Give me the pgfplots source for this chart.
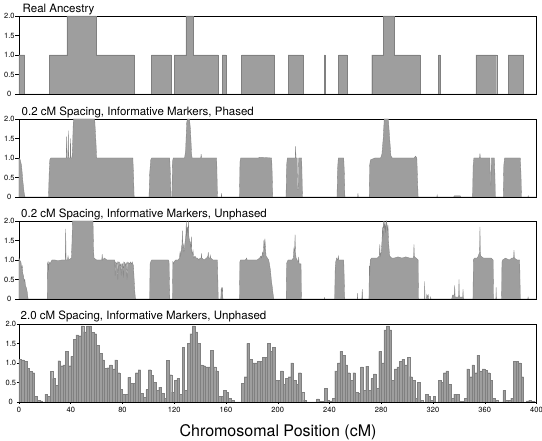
\documentclass[border=0pt]{standalone}
\usepackage{fontspec}
\setmainfont{TeX Gyre Heros}
\usepackage{pgfplots}
\pgfplotsset{compat=1.18}
\definecolor{fillgray}{RGB}{158,158,158}
\definecolor{edgegray}{RGB}{128,128,128}
\pgfplotsset{
  panel/.style={
    scale only axis, width=517.5pt, height=78pt,
    xmin=0, xmax=400, ymin=0, ymax=2,
    axis line style={black, line width=0.8pt},
    ytick={0,0.5,1,1.5,2}, yticklabels={0,0.5,1.0,1.5,2.0},
    ytick pos=left, tick align=outside, major tick length=3.5pt,
    tick style={black, line width=0.5pt},
    yticklabel style={font=\fontsize{7.5}{8}\selectfont, text width=12pt, align=center, inner xsep=0pt},
    xticklabel style={font=\fontsize{7.5}{8}\selectfont},
    /pgf/number format/assume math mode=true,
    anchor=north west, clip=true,
  },
  topx/.style={xtick=\empty},
}
\begin{document}
\begin{tikzpicture}
\useasboundingbox (0,0) rectangle (542pt,-441pt);
% Panel 1
\begin{axis}[panel, topx, at={(19pt,-16pt)}]
\addplot[const plot mark left, fill=fillgray, draw=edgegray, line width=0.3pt] coordinates {
(0,1) (4.3,0) (23.5,1) (37,2) (59.5,1) (89,0) (102.3,1) (117.6,0) (120,1) (129,2) (134.3,1) (154,0) (157,1) (160,0) (172,1) (197,0) (208,1) (219.4,0) (236,1) (236.7,0) (247,1) (253.5,0) (272.6,1) (281.6,2) (289.7,1) (309.8,0) (324.3,1) (325.6,0) (353.2,1) (369.2,0) (378,1) (390,0) (400,0)
} \closedcycle;
\end{axis}
% Panel 2
\begin{axis}[panel, topx, at={(19pt,-119pt)}]
\addplot[fill=fillgray, draw=edgegray, line width=0.3pt] coordinates {
(0,1.0) (1,0.95) (2,0.8) (3,0.4) (4,0.1) (4.6,0)
(22.8,0) (23.3,0.6) (23.8,0.95) (24.5,1.0) (30,1.0) (36.5,1.0) (36.8,1.55) (37.1,1.0) (37.8,1.0) (38.1,1.7) (38.4,1.0) (39.5,1.0) (39.8,1.5) (40.1,1.0) (41,1.0) (41.5,1.4) (42,2.0) (58.5,2.0) (59.5,1.4) (60,1.0) (88,1.0) (88.5,0.6) (89,0)
(100.5,0) (101,0.6) (101.8,0.95) (102.5,1.0) (116.5,1.0) (117,0.6) (117.5,0)
(118.2,0) (118.6,0.9) (119.2,1.0) (128,1.0) (128.8,1.2) (129.6,1.9) (130.2,2.0) (131.8,2.0) (132.6,1.7) (133.4,1.1) (133.8,1.0) (140.5,1.0) (140.8,1.1) (141.1,1.0) (152.8,1.0) (153.1,0.5) (153.4,0)
(156.3,0) (156.5,0.1) (156.7,0)
(170.4,0) (170.8,0.9) (171.3,1.0) (185,1.0) (186,1.02) (195.3,1.0) (195.7,0.6) (196.1,0)
(206.4,0) (206.8,0.8) (207.4,1.0) (213.5,1.0) (213.8,1.3) (214.1,1.0) (215,1.0) (215.3,0.2) (215.9,0.2) (216.2,1.0) (218.5,1.0) (218.8,0.5) (219.1,0)
(245.8,0) (246.2,0.7) (246.8,1.0) (251,1.0) (251.5,0.6) (251.9,0)
(261.8,0) (262,0.1) (262.2,0)
(270.7,0) (271,0.8) (271.6,0.95) (275,1.0) (279.5,1.0) (280.5,1.1) (281.5,1.5) (282.3,2.0) (285.5,2.0) (286.5,1.5) (287.5,1.05) (288.5,1.0) (305.5,1.0) (306.5,1.05) (307.5,1.0) (308,0.5) (308.5,0)
(323,0) (323.2,0.05) (323.4,0)
(336,0) (336.5,0.03) (341,0.03) (341.5,0)
(350.6,0) (351,0.8) (351.6,1.0) (356,1.0) (356.3,1.12) (356.6,1.0) (364,1.0) (364.3,0.3) (364.8,0.3) (365.1,1.0) (367.5,1.0) (367.9,0.5) (368.2,0)
(374.3,0) (374.7,0.8) (375.3,1.0) (387.5,1.0) (388,0.6) (388.4,0)
(393.4,0) (393.6,0.03) (393.8,0) (400,0)
} \closedcycle;
\end{axis}
% Panel 3
\begin{axis}[panel, topx, at={(19pt,-221pt)}]
\addplot[fill=fillgray, draw=edgegray, line width=0.3pt] coordinates {
(0,1.05) (0.5,1.0) (1.5,0.95) (2,0.8) (2.5,0.85) (3,0.65) (3.5,0.6) (4,0.45) (4.5,0.5) (5,0.35) (5.5,0.3) (6,0.25) (6.5,0.15) (7,0)
(21.8,0) (22,0.9) (22.4,0.95) (22.8,0.7) (23.2,0.95) (24,0.9) (24.6,0.95) (25.5,1.0) (27,1.0) (28,1.0) (30,0.98) (33,1.0) (35.8,1.0) (36.1,1.8) (36.4,1.0) (37.5,1.0) (37.9,1.1) (38.3,1.0) (40.5,1.05) (41,1.5) (41.3,2.0) (57.2,2.0) (57.6,1.3) (58,1.05) (60,1.0) (62,1.0) (64,1.0) (64.3,1.15) (64.6,1.0) (66,1.05) (68,1.0) (70,1.0) (72,1.0) (74,1.0) (74.3,0.6) (74.6,0.95) (75.5,0.9) (76,0.95) (76.4,0.5) (76.8,0.95) (77.5,0.95) (78,0.85) (78.5,0.9) (79,0.6) (79.4,0.9) (80.2,0.9) (80.6,0.55) (81,0.95) (82,0.92) (82.5,0.85) (83,0.92) (83.5,0.5) (84,0.95) (85.5,0.9) (86,0.95) (87,0.9) (87.5,0.95) (88.5,0.85) (89,0.5) (89.5,0.2) (90,0)
(101,0) (101.3,0.9) (101.8,0.95) (102.5,1.0) (110,1.0) (112,1.0) (115.5,1.0) (116,0.95) (116.3,0.4) (116.6,0)
(118.6,0) (118.9,0.95) (119.4,0.9) (119.8,0.95) (121,1.0) (123,1.0) (124,1.05) (124.5,1.2) (125,1.1) (125.5,1.3) (126,1.4) (126.3,1.75) (126.6,1.3) (127,1.4) (127.5,1.2) (128,1.35) (128.5,1.5) (129,1.65) (129.3,2.0) (129.6,1.6) (130,1.85) (130.5,1.7) (131,2.0) (131.3,1.6) (131.8,1.5) (132.3,1.45) (132.8,1.3) (133.2,1.6) (133.6,1.2) (134,1.15) (134.5,1.25) (135,1.05) (136,1.1) (137,1.05) (138,1.05) (139,1.0) (140,1.05) (140.8,1.05) (141,1.17) (141.3,1.05) (143,1.0) (145,1.05) (146,1.1) (146.3,1.2) (146.6,1.05) (147.5,1.05) (147.8,1.12) (148.2,1.05) (150,1.0) (152,1.0) (153.4,1.0) (153.7,0.5) (154,0)
(156,0) (156.3,0.3) (156.8,0.2) (157.3,0.3) (157.6,0)
(170.4,0) (170.7,0.95) (171.2,1.0) (175,1.0) (176,1.05) (176.3,1.0) (180,1.0) (184,1.0) (186,1.05) (187,1.1) (187.5,1.05) (188.3,1.2) (188.8,1.1) (189.3,1.5) (189.6,1.25) (190.1,1.55) (190.5,1.3) (191,1.1) (192,1.05) (193,1.0) (193.6,0.9) (194.5,0.7) (195,0.5) (195.8,0.3) (196.5,0.1) (197,0)
(206.5,0) (206.8,0.9) (207.2,0.95) (208,1.0) (211,1.0) (212,1.05) (212.5,1.3) (213,1.2) (213.4,1.65) (213.7,1.2) (214.2,1.05) (215,1.0) (215.5,0.95) (215.9,0.95) (216.2,1.08) (216.5,0.9) (218,0.9) (218.3,0)
(236,0) (236.1,0.05) (236.3,0)
(244,0) (244.4,0.8) (244.8,0.95) (245.5,1.05) (246.4,1.0) (246.8,1.1) (247.2,1.0) (251,1.0) (251.4,0.5) (251.7,0)
(261.5,0) (261.7,0.15) (261.9,0) (265,0) (265.3,0.25) (265.6,0)
(270.5,0) (270.8,0.85) (271.1,0.6) (271.5,1.0) (272.5,1.05) (275,1.05) (277,1.05) (278.5,1.1) (278.9,1.4) (279.2,1.1) (280,1.2) (280.6,1.5) (281,1.85) (281.4,1.6) (281.8,2.0) (282.3,1.8) (282.8,2.0) (283.2,1.7) (283.7,1.95) (284.2,2.0) (284.7,1.75) (285.2,1.9) (285.6,1.5) (286,1.3) (286.5,1.1) (288,1.05) (290,1.05) (293,1.08) (296,1.05) (299,1.08) (302,1.05) (305,1.05) (305.3,1.4) (305.6,1.08) (307,1.05) (308.5,1.0) (308.8,0)
(313.4,0) (313.6,0.45) (313.8,0) (315,0) (315.2,0.12) (316,0.05) (316.3,0.1) (316.6,0) (318,0) (318.2,0.05) (318.4,0)
(334.5,0) (335,0.1) (336.5,0.1) (336.8,0.35) (337.1,0.05) (339.8,0.05) (340.1,0.5) (340.4,0.05) (343,0.05) (343.2,0.25) (343.5,0)
(350.9,0) (351.2,1.0) (352,1.05) (354,1.05) (355,1.1) (356,1.2) (356.3,1.85) (356.6,1.2) (357,1.1) (359,1.05) (362,1.05) (365,1.05) (366.5,1.0) (366.8,0)
(368.6,0) (368.8,0.3) (369,0)
(373,0) (373.3,0.95) (373.8,1.0) (376,1.05) (379,1.0) (381,1.05) (382.3,1.05) (382.6,1.25) (382.9,1.05) (385,1.0) (387,1.0) (387.5,0)
(393.3,0) (393.5,0.05) (393.7,0) (400,0)
} \closedcycle;
\end{axis}
% Panel 4
\begin{axis}[panel, at={(19pt,-324pt)}, xtick={0,40,...,400}, xticklabels={0,40,80,120,160,200,240,280,320,360,400}, xtick pos=bottom, major tick length=2pt]
\addplot[ybar interval, fill=fillgray, draw=edgegray, line width=0.25pt] coordinates {
(0,1.1) (2,1.08) (4,1.05) (6,0.87) (8,0.78) (10,0.75) (12,0.15) (14,0.05) (16,0.03) (18,0) (20,0.2) (22,0.15) (24,0.78) (26,0.6) (28,0.42) (30,1.06) (32,0.93) (34,0.95) (36,1.3) (38,0.93)
(40,1.17) (42,1.6) (44,1.72) (46,1.7) (48,1.95) (50,1.8) (52,1.95) (54,1.95) (56,1.78) (58,1.75) (60,1.45) (62,1.25) (64,1.08) (66,0.87) (68,0.88) (70,0.95) (72,0.85) (74,1.08) (76,0.75) (78,0.32)
(80,0.2) (82,0.2) (84,0.63) (86,0.48) (88,0.48) (90,0.75) (92,0.83) (94,0.23) (96,0.12) (98,0.32) (100,0.83) (102,0.68) (104,0.5) (106,0.3) (108,0.38) (110,0.23) (112,0.1) (114,1.07) (116,0.7) (118,0.25)
(120,0.55) (122,0.6) (124,0.2) (126,1.4) (128,0.3) (130,1.5) (132,1.75) (134,1.95) (136,1.8) (138,1.5) (140,0.95) (142,0.93) (144,0.9) (146,0.9) (148,1.33) (150,0.9) (152,0.8) (154,0.15) (156,0.15) (158,0.3)
(160,0.25) (162,0.1) (164,0.05) (166,0) (168,0) (170,0) (172,0.48) (174,0.65) (176,1.5) (178,1.1) (180,1.0) (182,1.0) (184,1.05) (186,1.05) (188,1.15) (190,1.15) (192,1.5) (194,1.3) (196,1.4) (198,0.55)
(200,0.55) (202,0.8) (204,0.45) (206,0.6) (208,0.65) (210,1.0) (212,0.55) (214,0.45) (216,0.75) (218,0.25) (220,0.05) (222,0) (224,0) (226,0) (228,0) (230,0.08) (232,0.02) (234,0.02) (236,0.35) (238,0.05)
(240,0.03) (242,0.1) (244,0.8) (246,1.0) (248,1.3) (250,1.2) (252,0.95) (254,0.75) (256,0.55) (258,0.75) (260,0.25) (262,0.22) (264,0.9) (266,0.3) (268,0.92) (270,0.3) (272,0.6) (274,0.72) (276,0.35) (278,1.3)
(280,1.0) (282,1.85) (284,1.95) (286,1.85) (288,0.55) (290,0.85) (292,0.9) (294,1.05) (296,1.1) (298,0.95) (300,1.15) (302,0.65) (304,0.55) (306,0.1) (308,0.5) (310,0.05) (312,0) (314,0.2) (316,0.15) (318,0.05)
(320,0.15) (322,0) (324,0.55) (326,0.5) (328,0.75) (330,0.8) (332,0.45) (334,0.1) (336,0.2) (338,0.2) (340,0.02) (342,0.02) (344,0.1) (346,0.85) (348,0.65) (350,0.95) (352,0.75) (354,1.2) (356,0.8) (358,0.85)
(360,0.82) (362,0.75) (364,0.55) (366,0.1) (368,0.05) (370,0) (372,0) (374,0.3) (376,0.05) (378,0.05) (380,0.1) (382,1.05) (384,1.05) (386,1.0) (388,0.65) (390,0) (392,0.03) (394,0.05) (396,0.02) (398,0) (400,0)
};
\end{axis}
% Titles
\node[anchor=base west, inner sep=0pt, font=\fontsize{11.5}{13}\selectfont] at (22.5pt,-12.5pt) {Real Ancestry};
\node[anchor=base west, inner sep=0pt, font=\fontsize{11.5}{13}\selectfont] at (21.5pt,-115.5pt) {0.2 cM Spacing, Informative Markers, Phased};
\node[anchor=base west, inner sep=0pt, font=\fontsize{11.5}{13}\selectfont] at (21pt,-217.5pt) {0.2 cM Spacing, Informative Markers, Unphased};
\node[anchor=base west, inner sep=0pt, font=\fontsize{11.5}{13}\selectfont] at (20.5pt,-320pt) {2.0 cM Spacing, Informative Markers, Unphased};
\node[anchor=base, inner sep=0pt, font=\fontsize{16}{18}\selectfont] at (278pt,-437pt) {Chromosomal Position (cM)};
\end{tikzpicture}
\end{document}
